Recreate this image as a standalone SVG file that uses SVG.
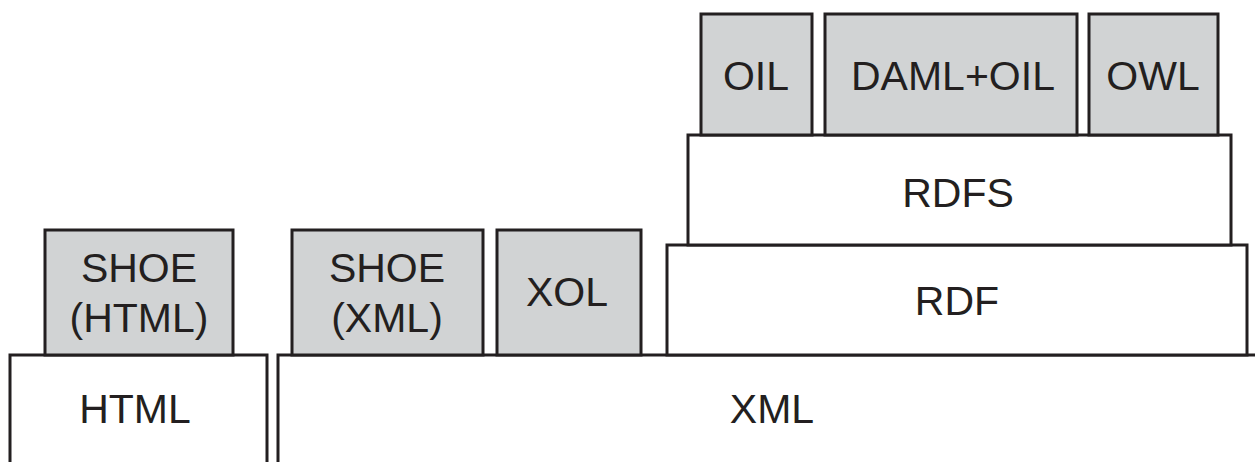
<svg xmlns="http://www.w3.org/2000/svg" width="1255" height="462" viewBox="0 0 1255 462">
<style>
.w{fill:#ffffff;stroke:#231f20;stroke-width:3}
.g{fill:#d1d3d4;stroke:#231f20;stroke-width:3}
text{font-family:"Liberation Sans",Arial,sans-serif;font-size:41px;fill:#231f20;text-anchor:middle}
</style>
<rect width="1255" height="462" fill="#ffffff"/>
<g id="html"><rect class="w" x="10" y="355" width="257" height="120"/><text x="135" y="423">HTML</text></g>
<g id="xml"><rect class="w" x="278" y="355" width="990" height="120"/><text x="772" y="423">XML</text></g>
<g id="shoe-html"><rect class="g" x="45" y="230" width="188" height="125"/><text x="139" y="282">SHOE</text><text x="139" y="332">(HTML)</text></g>
<g id="shoe-xml"><rect class="g" x="292" y="230" width="191" height="125"/><text x="387" y="282">SHOE</text><text x="387" y="332">(XML)</text></g>
<g id="xol"><rect class="g" x="497" y="230" width="144" height="125"/><text x="567" y="306">XOL</text></g>
<g id="rdf"><rect class="w" x="667" y="245" width="580" height="110"/><text x="957" y="315">RDF</text></g>
<g id="rdfs"><rect class="w" x="688" y="135" width="543" height="110"/><text x="958" y="207">RDFS</text></g>
<g id="oil"><rect class="g" x="701" y="14" width="111" height="121"/><text x="756" y="90">OIL</text></g>
<g id="daml-oil"><rect class="g" x="825" y="14" width="252" height="121"/><text x="953" y="90">DAML+OIL</text></g>
<g id="owl"><rect class="g" x="1089" y="14" width="129" height="121"/><text x="1153" y="90">OWL</text></g>
<g id="connectors"></g>
</svg>
